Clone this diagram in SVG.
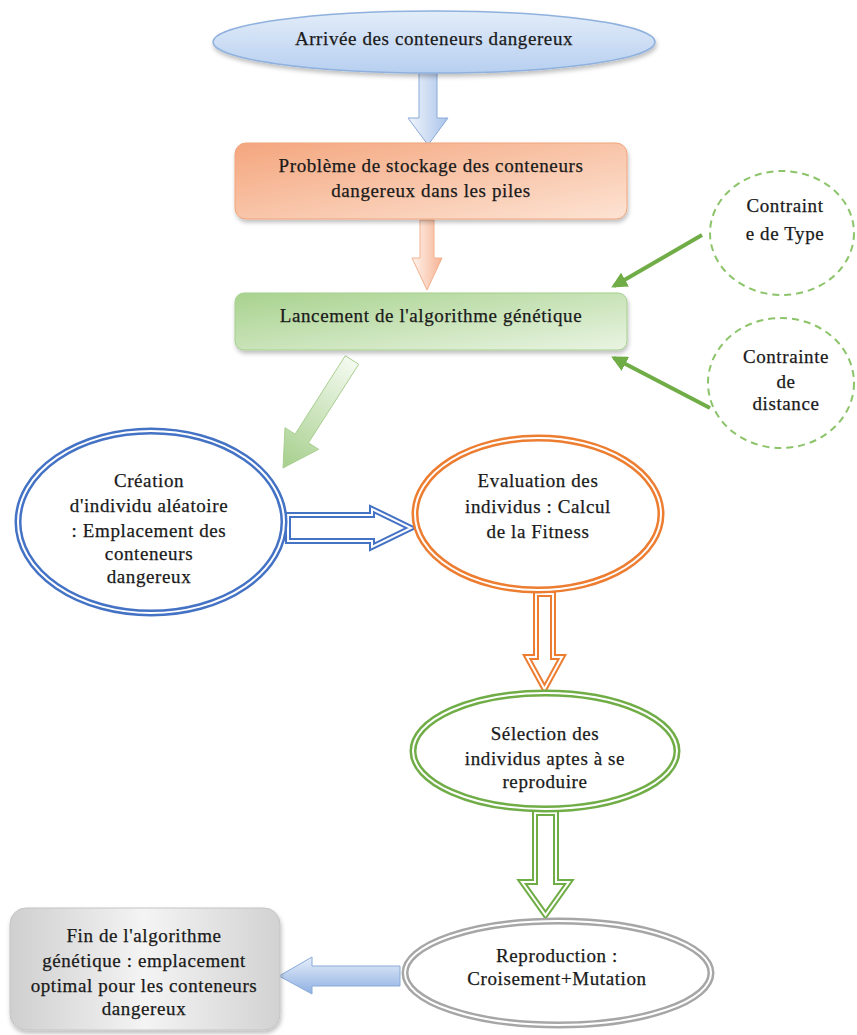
<svg xmlns="http://www.w3.org/2000/svg" width="857" height="1035" viewBox="0 0 857 1035">
<defs>
<style>
text{font-family:"Liberation Serif","Times New Roman",serif;font-size:19px;letter-spacing:0.6px;fill:#1a1a1a;stroke:#1a1a1a;stroke-width:0.25;text-anchor:middle}
.dbl-blue{fill:#fff;stroke:#4472c4;stroke-width:7}
.dbl-orange{fill:#fff;stroke:#ed7d31;stroke-width:7}
.dbl-green{fill:#fff;stroke:#70ad47;stroke-width:7}
.dbl-gray{fill:#fff;stroke:#a6a6a6;stroke-width:7}
.inner{fill:none;stroke:#fff;stroke-width:2}
.dash{fill:#fff;stroke:#8cc46a;stroke-width:2;stroke-dasharray:7 5}
.thin{stroke:#70ad47;stroke-width:4;fill:none;marker-end:url(#ah)}
</style>
<linearGradient id="gBlue" x1="0" y1="0" x2="0" y2="1"><stop offset="0" stop-color="#e3edf9"/><stop offset="1" stop-color="#b7cff0"/></linearGradient>
<linearGradient id="gOrange" x1="0" y1="0" x2="1" y2="1"><stop offset="0" stop-color="#f4a67e"/><stop offset="1" stop-color="#fde3d3"/></linearGradient>
<linearGradient id="gGreen" x1="0" y1="0" x2="1" y2="1"><stop offset="0" stop-color="#a8d28e"/><stop offset="1" stop-color="#e9f4e2"/></linearGradient>
<linearGradient id="gGray" x1="0" y1="0" x2="1" y2="0"><stop offset="0" stop-color="#cfcfcf"/><stop offset="0.5" stop-color="#f4f4f4"/><stop offset="1" stop-color="#d2d2d2"/></linearGradient>
<linearGradient id="gArBlue" x1="0" y1="0" x2="1" y2="0"><stop offset="0" stop-color="#f2f6fc"/><stop offset="1" stop-color="#a9c3ea"/></linearGradient>
<linearGradient id="gArBlueH" x1="0" y1="0" x2="0" y2="1"><stop offset="0" stop-color="#e6eefa"/><stop offset="1" stop-color="#8fb0e2"/></linearGradient>
<linearGradient id="gArOrange" x1="0" y1="0" x2="1" y2="0"><stop offset="0" stop-color="#fff4ee"/><stop offset="1" stop-color="#f6b393"/></linearGradient>
<linearGradient id="gArGreen" gradientUnits="userSpaceOnUse" x1="352" y1="360" x2="283" y2="468"><stop offset="0" stop-color="#f4faf0"/><stop offset="1" stop-color="#a6cf8c"/></linearGradient>
<filter id="sh" x="-10%" y="-10%" width="120%" height="130%"><feDropShadow dx="1" dy="3" stdDeviation="2" flood-color="#000" flood-opacity="0.25"/></filter>
<marker id="ah" viewBox="0 0 10 10" refX="8" refY="5" markerWidth="4" markerHeight="4" orient="auto"><path d="M0,0 L10,5 L0,10 z" fill="#70ad47"/></marker>
</defs>

<g id="connectors">
<polygon points="419,72 437,72 437,118 448,118 428,145 408,118 419,118" fill="url(#gArBlue)" stroke="#8aaad8" stroke-width="1"/>
<polygon points="420,220 434,220 434,258 442,258 427,290 412,258 420,258" fill="url(#gArOrange)" stroke="#f3b08c" stroke-width="1"/>
<polygon points="345.3,355.7 358.7,364.3 308.5,442.8 318.6,449.3 283,468 285,427.7 295.1,434.2" fill="url(#gArGreen)" stroke="#a8cf90" stroke-width="1"/>
<line class="thin" x1="702" y1="235" x2="614" y2="286"/>
<line class="thin" x1="710" y1="408" x2="614" y2="358"/>
<polygon points="288,515 372,515 372,509 411,528 372,547 372,541 288,541" fill="#fff" stroke="#4472c4" stroke-width="6"/>
<polygon points="288,515 372,515 372,509 411,528 372,547 372,541 288,541" class="inner"/>
<polygon points="536,594 553,594 553,657 562,657 544.5,689 527,657 536,657" fill="#fff" stroke="#ed7d31" stroke-width="6"/>
<polygon points="536,594 553,594 553,657 562,657 544.5,689 527,657 536,657" class="inner"/>
<polygon points="535,813 556,813 556,882 569,882 545.5,915 522,882 535,882" fill="#fff" stroke="#70ad47" stroke-width="6"/>
<polygon points="535,813 556,813 556,882 569,882 545.5,915 522,882 535,882" class="inner"/>
<polygon points="400,966 312,966 312,957 279,976 312,994 312,986 400,986" fill="url(#gArBlueH)" stroke="#8aaad8" stroke-width="1"/>
</g>

<g id="n-arrivee">
<ellipse cx="434" cy="42" rx="221" ry="31" fill="url(#gBlue)" stroke="#8fb1de" stroke-width="1.5" filter="url(#sh)"/>
<text x="434" y="45">Arrivée des conteneurs dangereux</text>
</g>

<g id="n-probleme">
<rect x="235" y="143" width="392" height="76" rx="11" fill="url(#gOrange)" stroke="#f1a57c" stroke-width="1" filter="url(#sh)"/>
<text x="431" y="172">Problème de stockage des conteneurs</text>
<text x="431" y="197">dangereux dans les piles</text>
</g>

<g id="n-lancement">
<rect x="235" y="293" width="392" height="57" rx="9" fill="url(#gGreen)" stroke="#a6cf8e" stroke-width="1" filter="url(#sh)"/>
<text x="431" y="322">Lancement de l'algorithme génétique</text>
</g>

<g id="n-type">
<ellipse class="dash" cx="782" cy="233" rx="72" ry="62"/>
<text x="785" y="212">Contraint</text>
<text x="785" y="240">e de Type</text>
</g>

<g id="n-distance">
<ellipse class="dash" cx="781" cy="383" rx="73" ry="65"/>
<text x="786" y="363">Contrainte</text>
<text x="786" y="388">de</text>
<text x="786" y="410">distance</text>
</g>

<g id="n-creation">
<ellipse class="dbl-blue" cx="151" cy="522" rx="133" ry="91"/>
<ellipse class="inner" cx="151" cy="522" rx="133" ry="91"/>
<text x="149" y="487">Création</text>
<text x="149" y="512">d'individu aléatoire</text>
<text x="149" y="537">: Emplacement des</text>
<text x="149" y="560">conteneurs</text>
<text x="149" y="583">dangereux</text>
</g>

<g id="n-evaluation">
<ellipse class="dbl-orange" cx="538" cy="514" rx="123" ry="76"/>
<ellipse class="inner" cx="538" cy="514" rx="123" ry="76"/>
<text x="538" y="487">Evaluation des</text>
<text x="538" y="513">individus : Calcul</text>
<text x="538" y="538">de la Fitness</text>
</g>

<g id="n-selection">
<ellipse class="dbl-green" cx="545" cy="751" rx="132" ry="58"/>
<ellipse class="inner" cx="545" cy="751" rx="132" ry="58"/>
<text x="545" y="740">Sélection des</text>
<text x="545" y="765">individus aptes à se</text>
<text x="545" y="788">reproduire</text>
</g>

<g id="n-reproduction">
<ellipse class="dbl-gray" cx="558" cy="973" rx="153" ry="52"/>
<ellipse class="inner" cx="558" cy="973" rx="153" ry="52"/>
<text x="557" y="962">Reproduction :</text>
<text x="557" y="985">Croisement+Mutation</text>
</g>

<g id="n-fin">
<rect x="10" y="908" width="270" height="122" rx="16" fill="url(#gGray)" stroke="#c4c4c4" stroke-width="1" filter="url(#sh)"/>
<text x="144" y="942">Fin de l'algorithme</text>
<text x="144" y="967">génétique : emplacement</text>
<text x="144" y="992">optimal pour les conteneurs</text>
<text x="144" y="1015">dangereux</text>
</g>
</svg>
